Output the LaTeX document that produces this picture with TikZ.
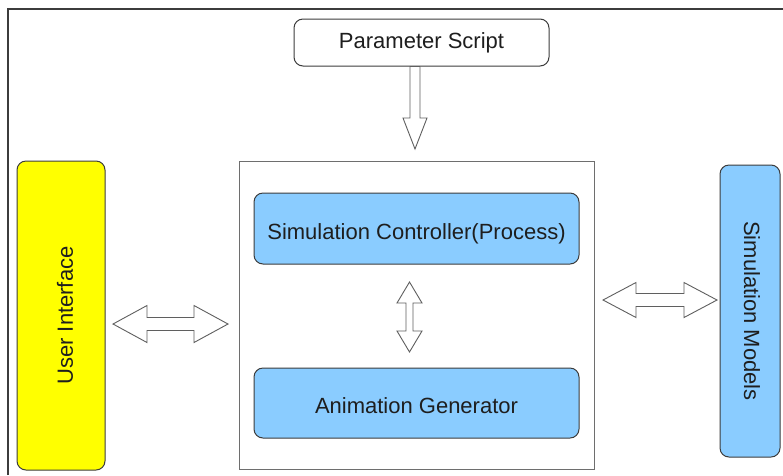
\documentclass[tikz,border=0pt]{standalone}
\usepackage{fontspec}
\setmainfont{Liberation Sans}
\usetikzlibrary{calc}

\definecolor{boxblue}{RGB}{138,204,255}
\definecolor{boxyellow}{RGB}{255,255,0}
\definecolor{edgegray}{RGB}{60,60,60}
\definecolor{arrowgray}{RGB}{95,95,95}
\definecolor{framegray}{RGB}{110,110,110}
\definecolor{textgray}{RGB}{30,30,30}

% shift a label inside its node without changing the node's box
\newcommand\nudge[2]{\raisebox{#1}[\height][\depth]{#2}}

% double-headed block arrow between two named coordinates
% #1,#2 tips, #3 half head width, #4 half shaft width, #5 head length
\newcommand\blockdouble[5]{%
  \coordinate (hA) at ($(#1)!#5!(#2)$);
  \coordinate (hB) at ($(#2)!#5!(#1)$);
  \draw[blockarrow] (#1)
    -- ($(hA)!#3!90:(#2)$) -- ($(hA)!#4!90:(#2)$)
    -- ($(hB)!#4!-90:(#1)$) -- ($(hB)!#3!-90:(#1)$)
    -- (#2)
    -- ($(hB)!#3!90:(#1)$) -- ($(hB)!#4!90:(#1)$)
    -- ($(hA)!#4!-90:(#2)$) -- ($(hA)!#3!-90:(#2)$)
    -- cycle;}
% single-headed block arrow: #1 flat end, #2 tip
\newcommand\blocksingle[5]{%
  \coordinate (hB) at ($(#2)!#5!(#1)$);
  \draw[blockarrow] ($(#1)!#4!90:(#2)$)
    -- ($(hB)!#4!-90:(#1)$) -- ($(hB)!#3!-90:(#1)$)
    -- (#2)
    -- ($(hB)!#3!90:(#1)$) -- ($(hB)!#4!90:(#1)$)
    -- ($(#1)!#4!-90:(#2)$) -- cycle;}

\tikzset{
  lbl/.style={font=\fontsize{22}{26}\selectfont, text=textgray},
  roundbox/.style={draw=edgegray, line width=1pt, rounded corners=9pt,
    inner sep=0pt, lbl},
  bluebox/.style={roundbox, fill=boxblue},
  blockarrow/.style={draw=arrowgray, fill=white, line width=0.9pt, line join=miter},
}

\begin{document}
\begin{tikzpicture}[x=1pt, y=-1pt]
  \useasboundingbox (0,0) rectangle (783,475);
  \fill[white] (0,0) rectangle (783,475);
  % outer frame (top and left edges)
  \draw[edgegray, line width=1.3pt] (8,475) -- (8,9) -- (783,9);

  % parameter source
  \node[roundbox, fill=white, minimum width=255pt, minimum height=47pt]
    (ps) at (421.5,42.5) {Parameter Script};

  % core container
  \node[draw=framegray, line width=0.9pt, minimum width=355pt,
    minimum height=308pt, inner sep=0pt] (core) at (416.5,315) {};
  \node[bluebox, minimum width=325pt, minimum height=71pt]
    (sc) at (416.5,228.5) {\nudge{-5pt}{Simulation Controller(Process)}};
  \node[bluebox, minimum width=325pt, minimum height=70pt]
    (ag) at (416.5,403) {\nudge{-3pt}{Animation Generator}};

  % side blocks
  \node[roundbox, fill=boxyellow, rotate=90, minimum width=309pt,
    minimum height=88pt] (ui) at (61,315.5) {\nudge{-4pt}{User Interface}};
  \node[bluebox, rotate=-90, minimum width=292pt, minimum height=60pt]
    (sm) at (750,311) {\nudge{2pt}{Simulation Models}};

  % arrow end points
  \coordinate (psOut) at (ps.south -| 415,73);
  \coordinate (coreIn) at (415,149);
  \coordinate (scOut) at (409.5,282);
  \coordinate (agIn) at (409.5,352);
  \coordinate (uiOut) at (113,324);
  \coordinate (coreL) at (228,324);
  \coordinate (coreR) at (603,300);
  \coordinate (smIn) at (717,300);

  \blocksingle{psOut}{coreIn}{12pt}{5pt}{31pt}
  \blockdouble{scOut}{agIn}{12.5pt}{3.5pt}{21pt}
  \blockdouble{uiOut}{coreL}{18.5pt}{6.5pt}{34pt}
  \blockdouble{coreR}{smIn}{17.5pt}{6.5pt}{33pt}
\end{tikzpicture}
\end{document}
